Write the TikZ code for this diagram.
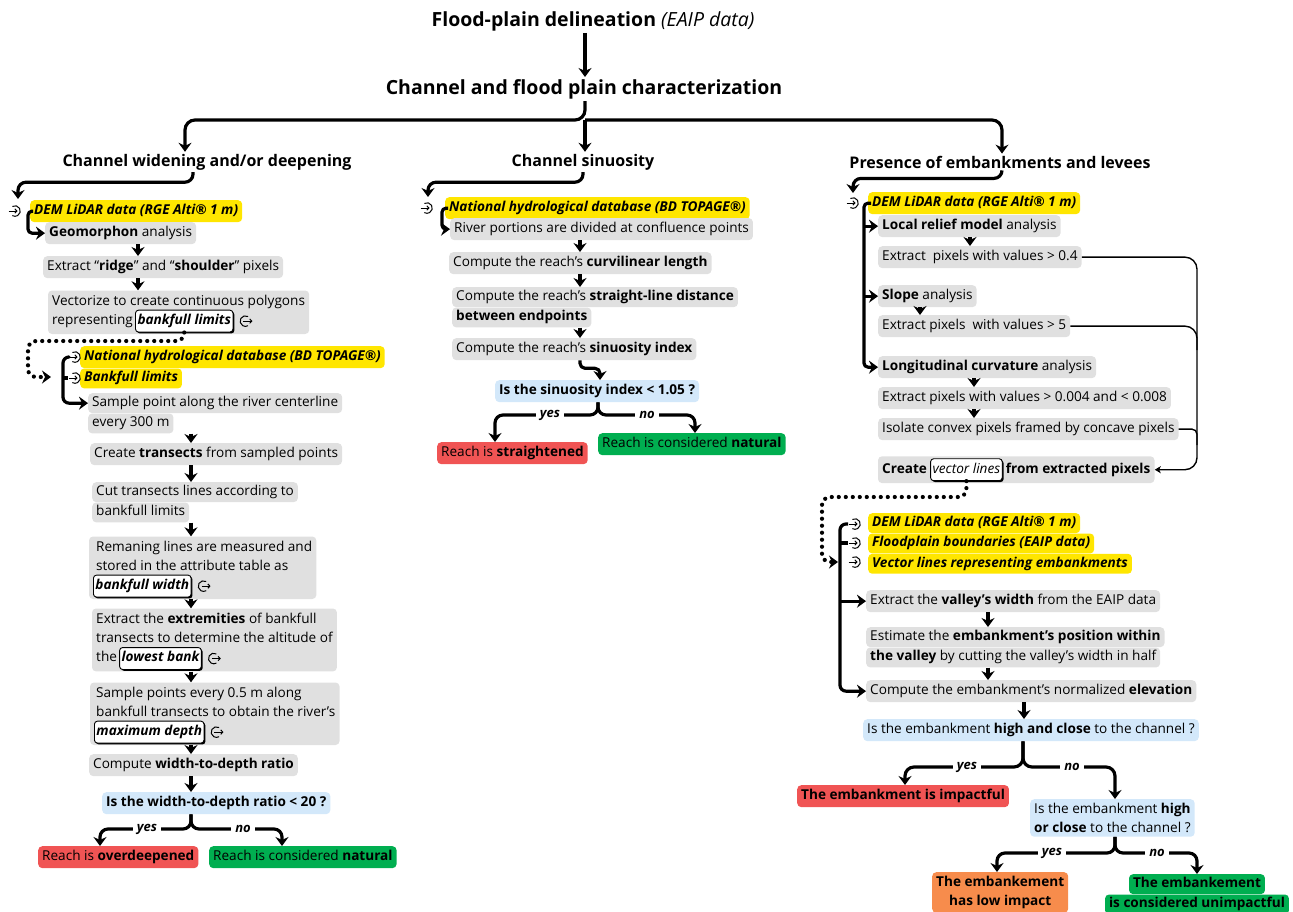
\documentclass[tikz,border=0pt]{standalone}
\usepackage{fontspec}
\setmainfont{Open Sans}
\usetikzlibrary{arrows.meta,positioning,fit,backgrounds,shadows}

\definecolor{procgray}{RGB}{224,224,224}
\definecolor{datayellow}{RGB}{255,230,0}
\definecolor{askblue}{RGB}{211,232,250}
\definecolor{yesred}{RGB}{240,84,84}
\definecolor{nogreen}{RGB}{0,174,80}
\definecolor{loworange}{RGB}{247,140,76}

\newcommand{\fsize}[2]{\fontsize{#1}{#2}\selectfont}

\tikzset{
  % one-line boxes
  onebox/.style={anchor=north west, rounded corners=4pt, inner xsep=4pt, inner ysep=4pt,
    text height=10.3pt, text depth=3.6pt, font=\fsize{13.6}{19}},
  row/.style={inner ysep=3pt},
  multibox/.style={anchor=north west, rounded corners=4pt, inner xsep=4pt, inner ysep=4pt,
    font=\fsize{13.6}{19}},
  procbox/.style={onebox, fill=procgray},
  databox/.style={onebox, fill=datayellow, font=\fsize{13.6}{19}\bfseries\itshape},
  askbox/.style={onebox, fill=askblue},
  redbox/.style={onebox, fill=yesred},
  greenbox/.style={onebox, fill=nogreen},
  askmulti/.style={multibox, fill=askblue, align=left},
  orangemulti/.style={multibox, fill=loworange, align=center, font=\fsize{13.6}{19}\bfseries},
  % text lines inside a fitted box
  tline/.style={anchor=north west, inner xsep=0pt, inner ysep=2.55pt,
    text height=10.3pt, text depth=3.6pt, font=\fsize{13.6}{19}},
  keybox/.style={draw, fill=white, line width=0.9pt, rounded corners=3pt,
    inner xsep=2pt, inner ysep=4pt, text height=10.3pt, text depth=3.6pt,
    font=\fsize{13.6}{19}\bfseries\itshape,
    drop shadow={shadow xshift=1.4pt, shadow yshift=-1.4pt, fill=black, opacity=1}},
  procfit/.style={fill=procgray, rounded corners=4pt, inner xsep=4pt, inner ysep=1.5pt},
  head/.style={font=\fsize{16}{19}\bfseries, inner sep=2pt},
  lbl/.style={fill=white, inner xsep=4pt, inner ysep=1pt, font=\fsize{13}{15}\bfseries\itshape},
  % connectors
  link/.style={line width=3.2pt, line join=round},
  flow/.style={link, -{Stealth[length=9pt, width=13pt, inset=3pt]}},
  dots/.style={line width=4.2pt, line cap=round, dash pattern=on 0pt off 7pt,
    -{Stealth[length=9pt, width=13pt, inset=3pt]}},
  thinlink/.style={line width=1.4pt},
  thinflow/.style={thinlink, -{Stealth[length=6pt, width=7pt, inset=1.5pt]}},
  % input / output icons
  inicon/.pic={
    \draw[line width=1pt] (120:5.3pt) arc[start angle=120, end angle=-120, radius=5.3pt];
    \draw[line width=1pt, -{Straight Barb[length=2pt, width=4.4pt]}] (-6.5pt,0pt) -- (2.5pt,0pt);
  },
  outicon/.pic={
    \draw[line width=1pt] (60:5.3pt) arc[start angle=60, end angle=300, radius=5.3pt];
    \draw[line width=1pt, -{Straight Barb[length=2pt, width=4.4pt]}] (-2pt,0pt) -- (7pt,0pt);
  },
}

\begin{document}
\begin{tikzpicture}[x=1pt, y=-1pt]
\useasboundingbox (0,0) rectangle (1293,911);

% titles
\node[font=\fsize{19.5}{23}, inner sep=2pt] (flood) at (593,21)
  {\textbf{Flood-plain delineation} \textit{(EAIP data)}};
\node[font=\fsize{19.5}{23}\bfseries, inner sep=2pt] (charac) at (584,89)
  {Channel and flood plain characterization};
\node[head] (widen) at (207,162) {Channel widening and/or deepening};
\node[head] (sinu) at (583,162) {Channel sinuosity};
\node[head] (levee) at (1000,162) {Presence of embankments and levees};

% ---- left: channel widening / deepening
\node[databox] (dem1) at (30,200) {DEM LiDAR data (RGE Alti® 1 m)};
\pic at (15,211) {inicon};
\node[procbox] (geo) at (45,222) {\textbf{Geomorphon} analysis};
\node[procbox] (ridge) at (43,256) {Extract “\textbf{ridge}” and “\textbf{shoulder}” pixels};

\node[tline] (vec1) at (52,292) {Vectorize to create continuous polygons};
\node[tline] (vec2) at (vec1.south west) {representing};
\node[keybox, right=2pt of vec2] (blim) {bankfull limits};
\pic at ([xshift=12pt]blim.east) {outicon};

\node[databox] (topage1) at (80,346) {National hydrological database (BD TOPAGE®)};
\node[databox, row] (bflim) at (topage1.south west) {Bankfull limits};
\pic at (75,357) {inicon};
\pic at (75,378) {inicon};

\node[procbox, row] (spt1) at (88,393) {Sample point along the river centerline};
\node[procbox, row] (spt2) at (spt1.south west) {every 300 m};
\node[procbox] (trans) at (90,443) {Create \textbf{transects} from sampled points};
\node[procbox, row] (cut1) at (92,482) {Cut transects lines according to};
\node[procbox, row] (cut2) at (cut1.south west) {bankfull limits};

\node[tline] (rem1) at (96,538) {Remaning lines are measured and};
\node[tline] (rem2) at (rem1.south west) {stored in the attribute table as};
\node[keybox, anchor=base west] (bwid) at ([yshift=-19pt, xshift=-3pt]rem2.base west) {bankfull width};
\pic at ([xshift=12pt]bwid.east) {outicon};

\node[tline] (ext1) at (96,610) {Extract the \textbf{extremities} of bankfull};
\node[tline] (ext2) at (ext1.south west) {transects to determine the altitude of};
\node[tline] (ext3) at (ext2.south west) {the};
\node[keybox, right=2pt of ext3] (lowb) {lowest bank};
\pic at ([xshift=12pt]lowb.east) {outicon};

\node[tline] (smp1) at (96,684) {Sample points every 0.5 m along};
\node[tline] (smp2) at (smp1.south west) {bankfull transects to obtain the river’s};
\node[keybox, anchor=base west] (mdep) at ([yshift=-19pt, xshift=-2pt]smp2.base west) {maximum depth};
\pic at ([xshift=12pt]mdep.east) {outicon};

\node[procbox] (wdr) at (89,754) {Compute \textbf{width-to-depth ratio}};
\node[askbox, font=\fsize{13.6}{19}\bfseries] (ask1) at (102,792) {Is the width-to-depth ratio < 20 ?};
\node[redbox] (overdeep) at (38,846) {Reach is \textbf{overdeepened}};
\node[greenbox] (natural1) at (209,846) {Reach is considered \textbf{natural}};

\begin{scope}[on background layer]
  \node[procfit, fit=(vec1)(vec2)(blim)] (vec) {};
  \node[procfit, fit=(rem1)(rem2)(bwid)] (rem) {};
  \node[procfit, fit=(ext1)(ext2)(ext3)(lowb)] (ext) {};
  \node[procfit, fit=(smp1)(smp2)(mdep)] (smp) {};
\end{scope}

% ---- middle: channel sinuosity
\node[databox] (topage2) at (445,197) {National hydrological database (BD TOPAGE®)};
\pic at (427,208) {inicon};
\node[procbox] (portions) at (450,218) {River portions are divided at confluence points};
\node[procbox] (curvi) at (449,252) {Compute the reach’s \textbf{curvilinear length}};
\node[procbox, row] (straight1) at (452,287) {Compute the reach’s \textbf{straight-line distance}};
\node[procbox, row] (straight2) at (straight1.south west) {\textbf{between endpoints}};
\node[procbox] (sinidx) at (452,338) {Compute the reach’s \textbf{sinuosity index}};
\node[askbox, font=\fsize{13.6}{19}\bfseries] (ask2) at (495,380) {Is the sinuosity index < 1.05 ?};
\node[redbox] (straightened) at (437,442) {Reach is \textbf{straightened}};
\node[greenbox] (natural2) at (598,433) {Reach is considered \textbf{natural}};

% ---- right: embankments and levees
\node[databox] (dem3) at (868,192) {DEM LiDAR data (RGE Alti® 1 m)};
\pic at (853,203) {inicon};
\node[procbox] (relief) at (878,215) {\textbf{Local relief model} analysis};
\node[procbox] (ext04) at (878,246) {Extract\ \ pixels with values > 0.4};
\node[procbox] (slope) at (878,285) {\textbf{Slope} analysis};
\node[procbox] (ext5) at (878,315) {Extract pixels\ \ with values > 5};
\node[procbox] (longc) at (878,356) {\textbf{Longitudinal curvature} analysis};
\node[procbox] (ext008) at (878,387) {Extract pixels with values > 0.004 and < 0.008};
\node[procbox] (convex) at (878,418) {Isolate convex pixels framed by concave pixels};

\node[tline, font=\fsize{13.6}{19}\bfseries] (create) at (882,460) {Create};
\node[keybox, right=3pt of create, font=\fsize{13.6}{19}\itshape] (vlines) {vector lines};
\node[tline, right=3pt of vlines, font=\fsize{13.6}{19}\bfseries] (frompix) {from extracted pixels};
\begin{scope}[on background layer]
  \node[procfit, fit=(create)(vlines)(frompix), inner ysep=2pt] (vecline) {};
\end{scope}

\node[databox, row] (dem4) at (868,513) {DEM LiDAR data (RGE Alti® 1 m)};
\node[databox, row] (eaip) at (dem4.south west) {Floodplain boundaries (EAIP data)};
\node[databox, row] (vlrep) at (eaip.south west) {Vector lines representing embankments};
\foreach \y in {524,543,562} \pic at (855,\y) {inicon};

\node[procbox] (valley) at (866,590) {Extract the \textbf{valley’s width} from the EAIP data};
\node[procbox, row] (estim1) at (866,627) {Estimate the \textbf{embankment’s position within}};
\node[procbox, row] (estim2) at (estim1.south west) {\textbf{the valley} by cutting the valley’s width in half};
\node[procbox] (elev) at (866,680) {Compute the embankment’s normalized \textbf{elevation}};
\node[askbox] (ask3) at (863,719) {Is the embankment \textbf{high and close} to the channel ?};
\node[redbox, font=\fsize{13.6}{19}\bfseries] (impact) at (797,785) {The embankment is impactful};
\node[askmulti] (ask4) at (1030,799) {Is the embankment \textbf{high}\\\textbf{or close} to the channel ?};
\node[orangemulti] (lowimp) at (932,872) {The embankement\\has low impact};
\node[greenbox, row, anchor=north, font=\fsize{13.6}{19}\bfseries] (unimp1) at (1197,874) {The embankement};
\node[greenbox, row, anchor=north, font=\fsize{13.6}{19}\bfseries] (unimp2) at (unimp1.south) {is considered unimpactful};

% ---- connectors: top
\coordinate (hub) at (585,120);
\coordinate (hl) at (185,0);
\coordinate (hr) at (1002,0);
\draw[flow] (flood.south -| hub) -- (charac.north -| hub);
\draw[flow, rounded corners=10pt] (charac.south -| hub) -- (hub) -| (widen.north -| hl);
\draw[flow, rounded corners=10pt] (hub) -| (levee.north -| hr);
\draw[flow] (hub) -- (sinu.north -| hub);

% ---- connectors: left
\coordinate (wl) at (193,0);
\coordinate (e1) at (18,199);
\coordinate (kl) at (28,0);
\coordinate (la) at (138,0);
\coordinate (lc) at (191,0);
\draw[flow, rounded corners=8pt] (widen.south -| wl) -- ++(0,10) -| (e1);
\draw[flow, rounded corners=4pt] ([xshift=3pt]dem1.west) -| (geo.west -| kl) -- (geo.west);
\draw[flow] (geo.south -| la) -- (ridge.north -| la);
\draw[flow] (ridge.south -| la) -- (vec.north -| la);

\coordinate (dl) at (28,341);
\coordinate (dt1) at (51,377);
\draw[dots, rounded corners=8pt] (blim.south) |- (dl) |- (dt1);

\coordinate (kb) at (63,0);
\coordinate (k1) at (68,357);
\coordinate (k2) at (68,378);
\draw[flow, rounded corners=6pt] (k1) -| (spt1.west -| kb) -- (spt1.west);
\draw[link] (k2) -- (k2 -| kb);

\draw[flow] (spt2.south -| lc) -- (trans.north -| lc);
\draw[flow] (trans.south -| lc) -- (cut1.north -| lc);
\draw[flow] (cut2.south -| lc) -- (rem.north -| lc);
\draw[flow] (rem.south -| lc) -- (ext.north -| lc);
\draw[flow] (ext.south -| lc) -- (smp.north -| lc);
\draw[flow] (smp.south -| lc) -- (wdr.north -| lc);
\draw[flow] (wdr.south -| lc) -- (ask1.north -| lc);

\coordinate (ya1) at (100,829);
\coordinate (na1) at (282,829);
\draw[flow, rounded corners=8pt] (ask1.south -| lc) |- (ya1) -- (overdeep.north -| ya1);
\draw[flow, rounded corners=8pt] (ask1.south -| lc) |- (na1) -- (natural1.north -| na1);
\node[lbl] (yes1) at (147,829) {yes};
\node[lbl] (no1) at (243,829) {no};

% ---- connectors: middle
\coordinate (sl) at (583,0);
\coordinate (e2) at (428,197);
\coordinate (km) at (442,0);
\coordinate (mc) at (580,0);
\coordinate (ms) at (600,0);
\coordinate (jm) at (598,0);
\draw[flow, rounded corners=8pt] (sinu.south -| sl) -- ++(0,10) -| (e2);
\draw[flow, rounded corners=4pt] ([xshift=3pt]topage2.west) -| (portions.west -| km) -- (portions.west);
\draw[flow] (portions.south -| mc) -- (curvi.north -| mc);
\draw[flow] (curvi.south -| mc) -- (straight1.north -| mc);
\draw[flow] (straight2.south -| mc) -- (sinidx.north -| mc);
\draw[flow, rounded corners=5pt] (sinidx.south -| mc) -- ++(0,8) -| (ask2.north -| ms);

\coordinate (ya2) at (495,415);
\coordinate (na2) at (695,415);
\draw[flow, rounded corners=8pt] (ask2.south -| jm) |- (ya2) -- (straightened.north -| ya2);
\draw[flow, rounded corners=8pt] (ask2.south -| jm) |- (na2) -- (natural2.north -| na2);
\node[lbl] (yes2) at (550,415) {yes};
\node[lbl] (no2) at (647,415) {no};

% ---- connectors: right
\coordinate (e3) at (853,193);
\coordinate (kr) at (864,0);
\draw[flow, rounded corners=8pt] (levee.south -| hr) -- ++(0,8) -| (e3);
\draw[flow, rounded corners=4pt] ([xshift=3pt]dem3.west) -| (longc.west -| kr) -- (longc.west);
\draw[flow] (relief.west -| kr) -- (relief.west);
\draw[flow] (slope.west -| kr) -- (slope.west);

\coordinate (ra) at (970,0);
\coordinate (rb) at (920,0);
\coordinate (rc) at (974,0);
\draw[flow] (relief.south -| ra) -- (ext04.north -| ra);
\draw[flow] (slope.south -| rb) -- (ext5.north -| rb);
\draw[flow] (longc.south -| rc) -- (ext008.north -| rc);
\draw[flow] (ext008.south -| rc) -- (convex.north -| rc);

\coordinate (rv) at (1197,0);
\coordinate (j5) at (1197,350);
\coordinate (j6) at (1197,445);
\draw[thinflow, rounded corners=12pt] (ext04.east) -| (vecline.east -| rv) -- (vecline.east);
\draw[thinlink, rounded corners=12pt] (ext5.east) -| (j5);
\draw[thinlink, rounded corners=5pt] (convex.east) -| (j6);

\coordinate (dr) at (822,497);
\coordinate (dt2) at (838,562);
\draw[dots, rounded corners=8pt] (vlines.south) |- (dr) |- (dt2);

\coordinate (kb2) at (840,0);
\coordinate (k3) at (848,524);
\coordinate (k4) at (848,543);
\draw[flow, rounded corners=6pt] (k3) -| (elev.west -| kb2) -- (elev.west);
\draw[link] (k4) -- (k4 -| kb2);
\draw[flow] (valley.west -| kb2) -- (valley.west);

\coordinate (rd) at (988,0);
\coordinate (re) at (1024,0);
\draw[flow] (valley.south -| rd) -- (estim1.north -| rd);
\draw[flow] (estim2.south -| rd) -- (elev.north -| rd);
\draw[flow] (elev.south -| re) -- (ask3.north -| re);

\coordinate (ya3) at (905,767);
\coordinate (na3) at (1115,767);
\coordinate (j3) at (1023,0);
\draw[flow, rounded corners=9pt] (ask3.south -| j3) |- (ya3) -- (impact.north -| ya3);
\draw[flow, rounded corners=9pt] (ask3.south -| j3) |- (na3) -- (ask4.north -| na3);
\node[lbl] (yes3) at (967,767) {yes};
\node[lbl] (no3) at (1072,767) {no};

\coordinate (ya4) at (997,853);
\coordinate (na4) at (1197,853);
\coordinate (j4) at (1115,0);
\draw[flow, rounded corners=8pt] (ask4.south -| j4) |- (ya4) -- (lowimp.north -| ya4);
\draw[flow, rounded corners=8pt] (ask4.south -| j4) |- (na4) -- (unimp1.north -| na4);
\node[lbl] (yes4) at (1052,853) {yes};
\node[lbl] (no4) at (1157,853) {no};
\end{tikzpicture}
\end{document}
